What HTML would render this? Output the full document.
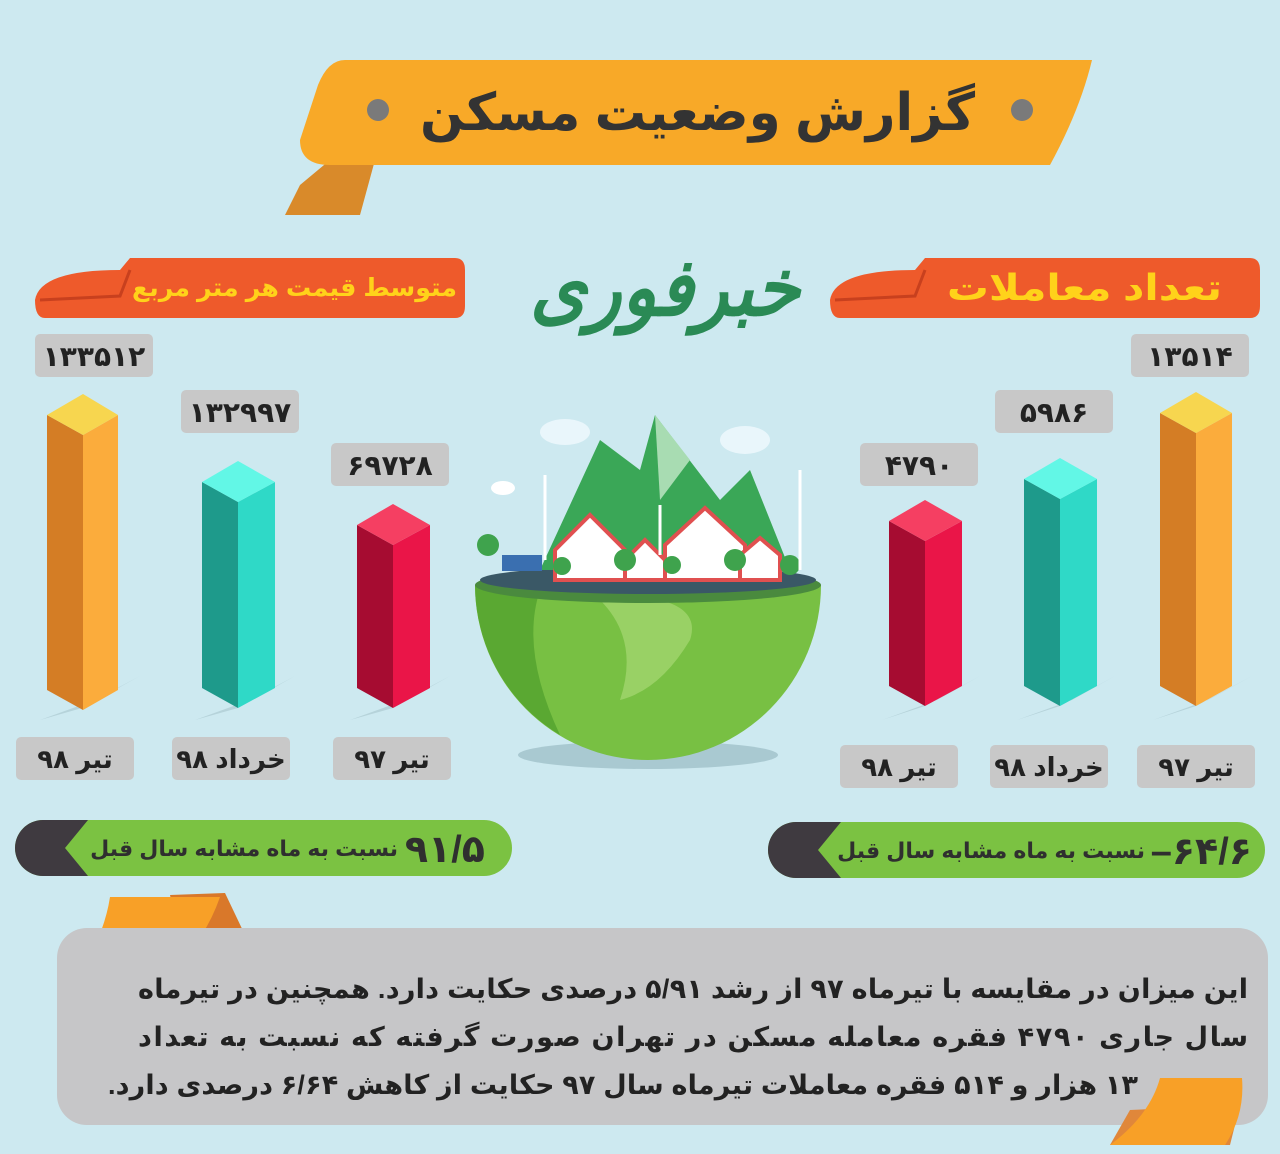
<!DOCTYPE html>
<html><head><meta charset="utf-8"><style>
html,body{margin:0;padding:0;background:#cde9f0;}
svg{display:block;}
text{font-family:"Liberation Sans","DejaVu Sans",sans-serif;font-weight:bold;}
</style></head><body>
<svg width="1280" height="1154" viewBox="0 0 1280 1154" xmlns="http://www.w3.org/2000/svg">
<rect width="1280" height="1154" fill="#cde9f0"/>
<path d="M300 185 L330 160 L375 160 L360 215 L285 215 Z" fill="#d98a2a"/>
<path d="M345 60 L1092 60 Q1080 110 1050 165 L330 165 Q300 165 300 140 L318 85 Q328 60 345 60 Z" fill="#f8a928"/>
<circle cx="378" cy="110" r="11" fill="#7a7a7a"/>
<circle cx="1022" cy="110" r="11" fill="#7a7a7a"/>
<text x="975" y="130" font-size="52" fill="#333" direction="rtl" font-weight="normal" textLength="555" lengthAdjust="spacingAndGlyphs">گزارش وضعیت مسکن</text>
<text x="800" y="315" font-size="80" fill="#2a8a55" direction="rtl" font-style="italic" textLength="270" lengthAdjust="spacingAndGlyphs">خبرفوری</text>
<path d="M35 300 Q40 270 120 270 L130 258 L455 258 Q465 258 465 270 L465 306 Q465 318 455 318 L45 318 Q35 318 35 300 Z" fill="#ee5a2b"/>
<path d="M40 300 L120 296 L130 270" stroke="#c8401e" stroke-width="3" fill="none"/>
<text x="457" y="296" font-size="25" fill="#ffd21a" direction="rtl" textLength="325" lengthAdjust="spacingAndGlyphs">متوسط قیمت هر متر مربع</text>
<path d="M830 300 Q835 270 915 270 L925 258 L1250 258 Q1260 258 1260 270 L1260 306 Q1260 318 1250 318 L840 318 Q830 318 830 300 Z" fill="#ee5a2b"/>
<path d="M835 300 L915 296 L925 270" stroke="#c8401e" stroke-width="3" fill="none"/>
<text x="1222" y="300" font-size="36" fill="#ffd21a" direction="rtl" textLength="275" lengthAdjust="spacingAndGlyphs">تعداد معاملات</text>
<g fill="#c8c8c8">
<rect x="35" y="334" width="118" height="43" rx="5"/>
<rect x="181" y="390" width="118" height="43" rx="5"/>
<rect x="331" y="443" width="118" height="43" rx="5"/>
<rect x="1131" y="334" width="118" height="43" rx="5"/>
<rect x="995" y="390" width="118" height="43" rx="5"/>
<rect x="860" y="443" width="118" height="43" rx="5"/>
</g>
<g font-size="28" fill="#222" text-anchor="middle">
<text x="94" y="366">۱۳۳۵۱۲</text>
<text x="240" y="422">۱۳۲۹۹۷</text>
<text x="390" y="475">۶۹۷۲۸</text>
<text x="1190" y="366">۱۳۵۱۴</text>
<text x="1054" y="422">۵۹۸۶</text>
<text x="919" y="475">۴۷۹۰</text>
</g>
<g fill="#b6d3da">
<path d="M40 720 L82 708 L140 676 L95 700 Z"/>
<path d="M195 720 L238 708 L295 676 L250 700 Z"/>
<path d="M350 720 L393 708 L450 676 L405 700 Z"/>
<path d="M882 720 L925 706 L980 676 L937 700 Z"/>
<path d="M1017 720 L1060 706 L1115 676 L1072 700 Z"/>
<path d="M1153 720 L1196 706 L1252 676 L1208 700 Z"/>
</g>
<path d="M47 415 L83 435 L83 710 L47 690 Z" fill="#d47d25"/>
<path d="M83 435 L118 415 L118 690 L83 710 Z" fill="#fbac3c"/>
<path d="M83 394 L118 415 L83 435 L47 415 Z" fill="#f7d64f"/>
<path d="M202 482 L238 502 L238 708 L202 688 Z" fill="#1e9a8b"/>
<path d="M238 502 L275 482 L275 688 L238 708 Z" fill="#2fd9c7"/>
<path d="M238 461 L275 482 L238 502 L202 482 Z" fill="#62f7e6"/>
<path d="M357 525 L393 545 L393 708 L357 688 Z" fill="#a60c31"/>
<path d="M393 545 L430 525 L430 688 L393 708 Z" fill="#ea1548"/>
<path d="M393 504 L430 525 L393 545 L357 525 Z" fill="#f53f62"/>
<path d="M889 521 L925 541 L925 706 L889 686 Z" fill="#a60c31"/>
<path d="M925 541 L962 521 L962 686 L925 706 Z" fill="#ea1548"/>
<path d="M925 500 L962 521 L925 541 L889 521 Z" fill="#f53f62"/>
<path d="M1024 479 L1060 499 L1060 706 L1024 686 Z" fill="#1e9a8b"/>
<path d="M1060 499 L1097 479 L1097 686 L1060 706 Z" fill="#2fd9c7"/>
<path d="M1060 458 L1097 479 L1060 499 L1024 479 Z" fill="#62f7e6"/>
<path d="M1160 413 L1196 433 L1196 706 L1160 686 Z" fill="#d47d25"/>
<path d="M1196 433 L1232 413 L1232 686 L1196 706 Z" fill="#fbac3c"/>
<path d="M1196 392 L1232 413 L1196 433 L1160 413 Z" fill="#f7d64f"/>
<ellipse cx="648" cy="755" rx="130" ry="14" fill="#a9c9d1"/>
<path d="M475 585 A173 175 0 0 0 821 585 Z" fill="#78c043"/>
<path d="M475 585 A173 175 0 0 0 560 735 Q520 650 540 590 Z" fill="#5aa832"/>
<path d="M600 600 Q640 640 620 700 Q660 690 690 640 Q700 610 660 600 Z" fill="#a6d873" opacity="0.7"/>
<ellipse cx="648" cy="585" rx="173" ry="18" fill="#4a8a3e"/>
<ellipse cx="648" cy="580" rx="168" ry="14" fill="#3a5866"/>
<path d="M540 570 L600 440 L640 470 L655 415 L720 500 L750 470 L790 570 Z" fill="#3aa757"/>
<path d="M655 415 L690 460 L660 500 Z" fill="#a8dcb2"/>
<g fill="#fff" stroke="#e05050" stroke-width="4">
<path d="M555 550 L590 515 L625 550 L625 580 L555 580 Z"/>
<path d="M665 545 L705 508 L745 545 L745 580 L665 580 Z"/>
<path d="M740 555 L760 538 L780 555 L780 580 L740 580 Z"/>
<path d="M625 560 L645 540 L665 560 L665 580 L625 580 Z"/>
</g>
<g fill="#3fa34d"><circle cx="488" cy="545" r="11"/><circle cx="625" cy="560" r="11"/><circle cx="735" cy="560" r="11"/><circle cx="790" cy="565" r="10"/><circle cx="562" cy="566" r="9"/><circle cx="672" cy="565" r="9"/></g>
<rect x="502" y="555" width="40" height="16" fill="#3a6fb0"/>
<ellipse cx="565" cy="432" rx="25" ry="13" fill="#e9f6fb"/><ellipse cx="745" cy="440" rx="25" ry="14" fill="#e9f6fb"/><ellipse cx="503" cy="488" rx="12" ry="7" fill="#fff"/>
<g stroke="#fff" stroke-width="3"><line x1="545" y1="475" x2="545" y2="560"/><line x1="660" y1="505" x2="660" y2="555"/><line x1="800" y1="470" x2="800" y2="570"/></g>
<g fill="#c8c8c8">
<rect x="16" y="737" width="118" height="43" rx="5"/>
<rect x="172" y="737" width="118" height="43" rx="5"/>
<rect x="333" y="737" width="118" height="43" rx="5"/>
<rect x="840" y="745" width="118" height="43" rx="5"/>
<rect x="990" y="745" width="118" height="43" rx="5"/>
<rect x="1137" y="745" width="118" height="43" rx="5"/>
</g>
<g font-size="26" fill="#222" text-anchor="middle" direction="rtl">
<text x="75" y="768">تیر ۹۸</text>
<text x="231" y="768">خرداد ۹۸</text>
<text x="392" y="768">تیر ۹۷</text>
<text x="899" y="776">تیر ۹۸</text>
<text x="1049" y="776">خرداد ۹۸</text>
<text x="1196" y="776">تیر ۹۷</text>
</g>
<rect x="15" y="820" width="497" height="56" rx="28" fill="#7bc242"/>
<path d="M43 820 L88 820 L65 848 L88 876 L43 876 A28 28 0 0 1 43 820 Z" fill="#3f3a40"/>
<text x="485" y="862" font-size="38" fill="#2f2f2f" direction="rtl">۹۱/۵</text>
<text x="398" y="856" font-size="22" fill="#2f2f2f" direction="rtl">نسبت به ماه مشابه سال قبل</text>
<rect x="768" y="822" width="497" height="56" rx="28" fill="#7bc242"/>
<path d="M796 822 L841 822 L818 850 L841 878 L796 878 A28 28 0 0 1 796 822 Z" fill="#3f3a40"/>
<text x="1252" y="864" font-size="38" fill="#2f2f2f" direction="rtl">۶۴/۶–</text>
<text x="1145" y="858" font-size="22" fill="#2f2f2f" direction="rtl">نسبت به ماه مشابه سال قبل</text>
<path d="M170 895 L225 893 L245 935 L180 940 Z" fill="#d9782a"/>
<path d="M110 897 L220 897 Q205 940 175 965 L85 965 Q105 930 110 897 Z" fill="#f8a027"/>
<rect x="57" y="928" width="1211" height="197" rx="30" fill="#c6c6c8"/>
<path d="M1130 1110 L1240 1105 L1230 1145 L1110 1145 Z" fill="#e0873a"/>
<path d="M1160 1078 L1242 1078 Q1245 1115 1225 1145 L1110 1145 Q1150 1115 1160 1078 Z" fill="#f8a027"/>
<g font-size="27" fill="#222" direction="rtl">
<text x="1248" y="998" textLength="1110" lengthAdjust="spacing">این میزان در مقایسه با تیرماه ۹۷ از رشد ۵/۹۱ درصدی حکایت دارد. همچنین در تیرماه</text>
<text x="1248" y="1046" textLength="1110" lengthAdjust="spacing">سال جاری ۴۷۹۰ فقره معامله مسکن در تهران صورت گرفته که نسبت به تعداد</text>
<text x="1138" y="1094" textLength="1030" lengthAdjust="spacing">۱۳ هزار و ۵۱۴ فقره معاملات تیرماه سال ۹۷ حکایت از کاهش ۶/۶۴ درصدی دارد.</text>
</g>
</svg>
</body></html>
